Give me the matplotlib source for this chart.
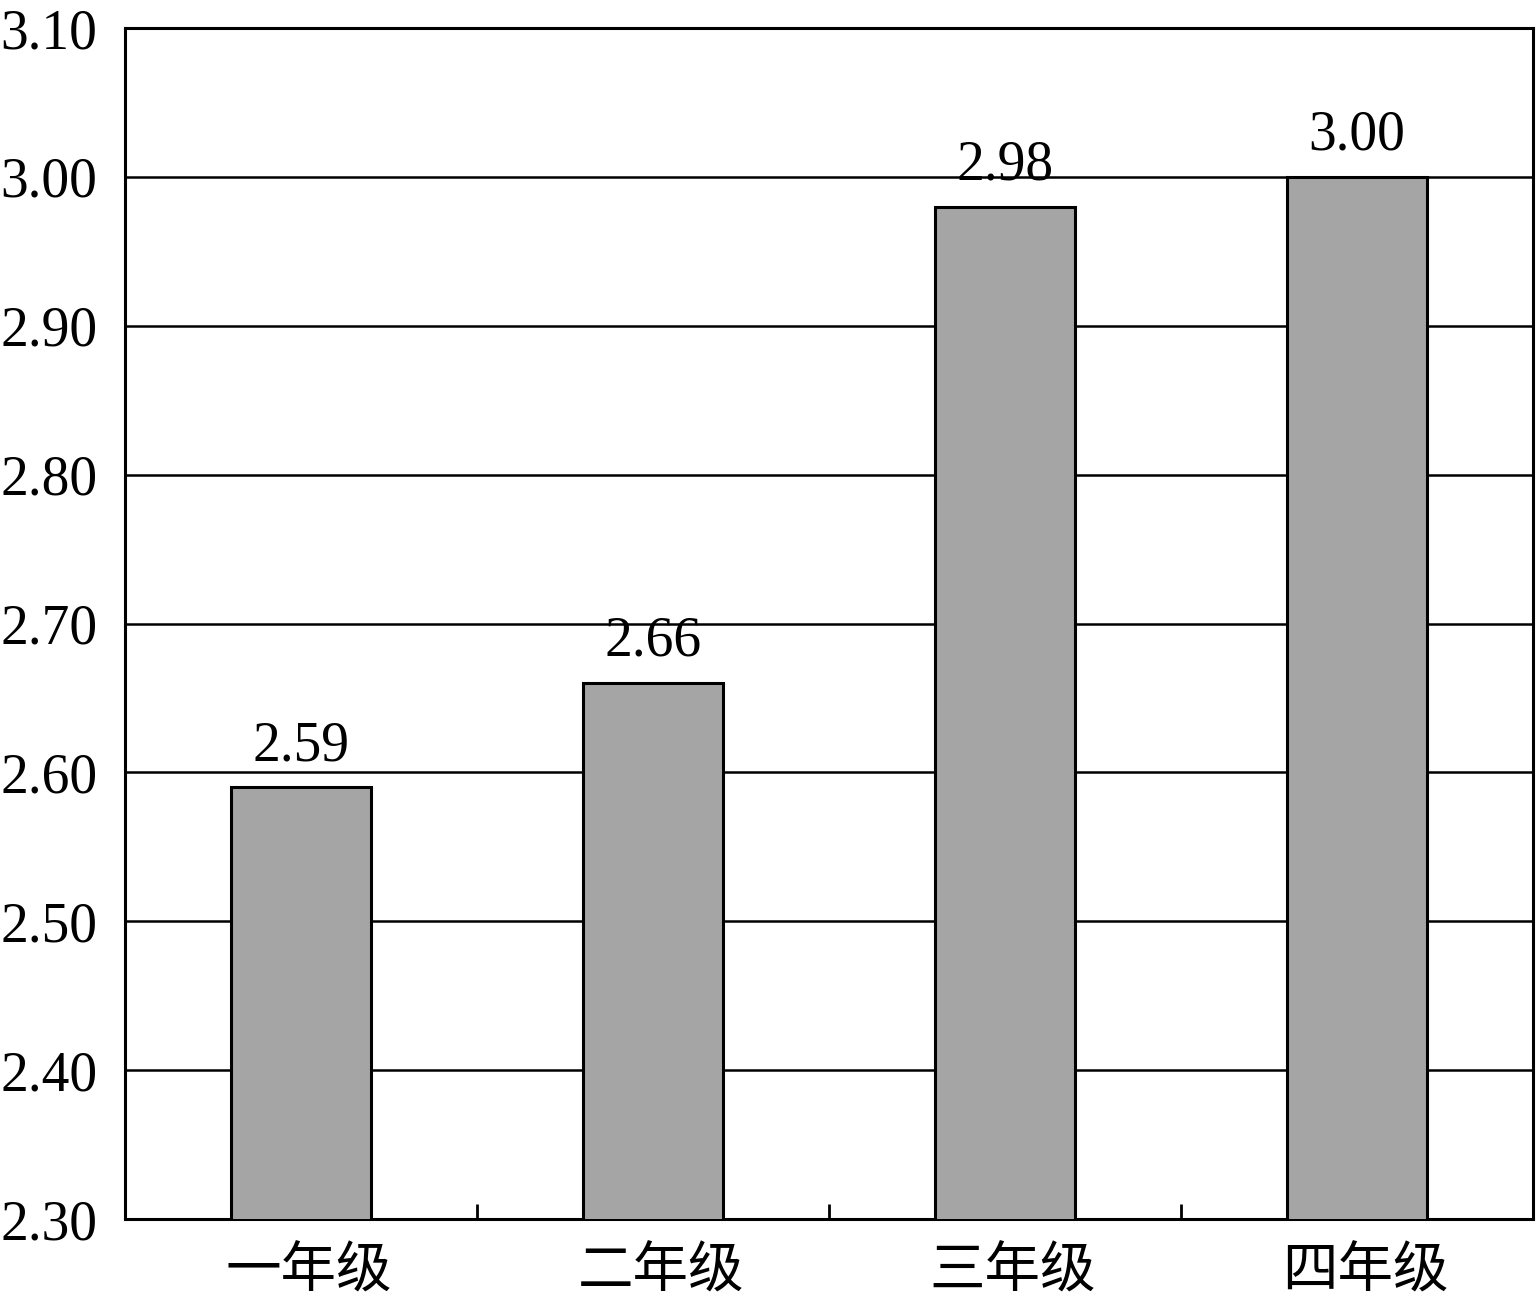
import matplotlib
matplotlib.use("Agg")
import matplotlib.pyplot as plt
import matplotlib.transforms as mtransforms
from matplotlib.ticker import FixedLocator

# data
grades = ["一年级", "二年级", "三年级", "四年级"]
scores = [2.59, 2.66, 2.98, 3.00]
yticks = [2.30, 2.40, 2.50, 2.60, 2.70, 2.80, 2.90, 3.00, 3.10]

plt.rcParams['font.family'] = ['Liberation Serif', 'Noto Sans CJK SC']

fig = plt.figure(figsize=(15.36, 13.05), dpi=100)
ax = fig.add_axes([0.0814, 0.0659, 0.9166, 0.9126])

x = list(range(len(grades)))
ax.bar(x, scores, width=0.4, bottom=0, color="#a5a5a5", edgecolor="black",
       linewidth=2.2, zorder=3)

# value labels above bars
for xi, v in zip(x, scores):
    ax.annotate(f"{v:.2f}", (xi, v), xytext=(0, 11), textcoords="offset points",
                ha="center", va="bottom", fontsize=40, family="Liberation Serif")

ax.set_ylim(2.30, 3.10)
ax.set_xlim(-0.5, len(grades) - 0.5)
ax.set_yticks(yticks)
ax.set_yticklabels([f"{t:.2f}" for t in yticks], fontsize=40, family="Liberation Serif")
ax.tick_params(axis="y", length=0, pad=20)

ax.set_xticks(x)
ax.set_xticklabels(grades, fontsize=40, family="Noto Sans CJK SC")
ax.tick_params(axis="x", which="major", length=0, pad=17)
# category labels sit a little right of the bar centres in the original
shift = mtransforms.ScaledTranslation(8 / 100, 0, fig.dpi_scale_trans)
for lbl in ax.get_xticklabels():
    lbl.set_transform(lbl.get_transform() + shift)
ax.xaxis.set_minor_locator(FixedLocator([0.5, 1.5, 2.5]))
ax.tick_params(axis="x", which="minor", direction="in", length=11, width=2, color="black")

ax.grid(axis="y", color="black", linewidth=1.8, zorder=0)
ax.set_axisbelow(True)
for s in ax.spines.values():
    s.set_linewidth(2.2)
    s.set_color("black")

fig.savefig("out.png", dpi=100, facecolor="white")
